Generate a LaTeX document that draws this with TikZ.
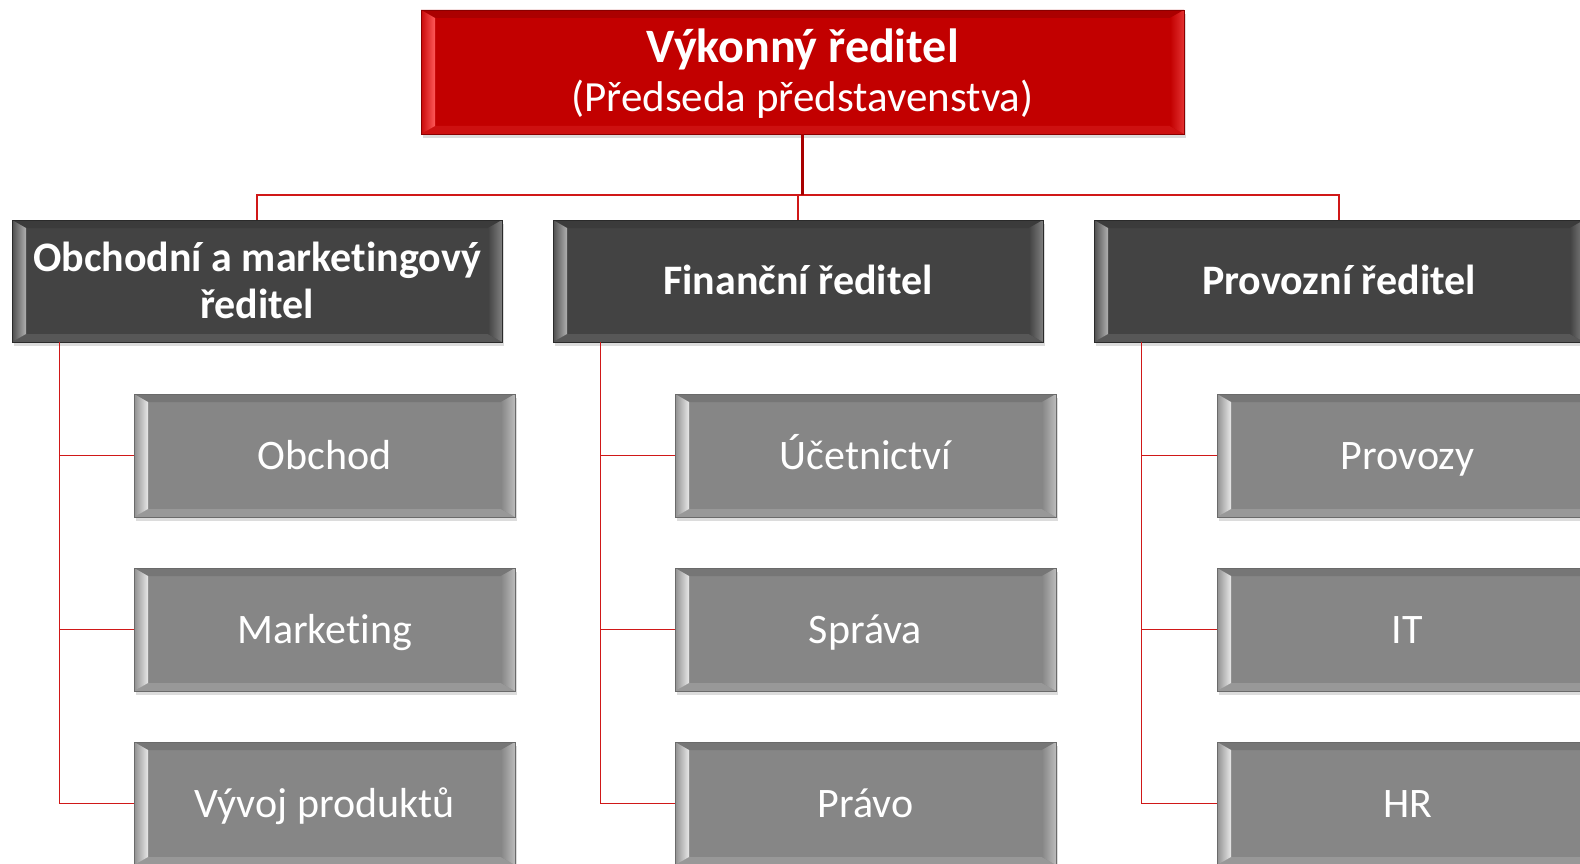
\documentclass[tikz,border=0pt]{standalone}
\usepackage{fontspec}
\setmainfont{Carlito}[Ligatures=NoCommon]
\usetikzlibrary{shadows,calc}
\definecolor{ceored}{HTML}{C20000}
\definecolor{ceolight}{HTML}{FF5A5A}
\definecolor{ceoedge}{HTML}{8A0000}
\definecolor{dkbase}{HTML}{434343}
\definecolor{dklight}{HTML}{B0B0B0}
\definecolor{dkedge}{HTML}{2A2A2A}
\definecolor{gybase}{HTML}{868686}
\definecolor{gylight}{HTML}{E8E8E8}
\definecolor{gyedge}{HTML}{6A6A6A}
\definecolor{linered}{HTML}{D01818}
\definecolor{trunkred}{HTML}{A80000}
\tikzset{
  bevel/.style n args={3}{fill=#1, draw=#3, line width=0.8pt, inner sep=0pt,
    text=white, align=center,
    drop shadow={opacity=0.28, shadow xshift=2pt, shadow yshift=-4pt},
    path picture={
      \coordinate (bSW) at (path picture bounding box.south west);
      \coordinate (bNE) at (path picture bounding box.north east);
      \coordinate (bNW) at (path picture bounding box.north west);
      \coordinate (bSE) at (path picture bounding box.south east);
      \fill[#1!88!black] (bNW) -- (bNE) -- ([xshift=-14pt,yshift=-8pt]bNE) -- ([xshift=14pt,yshift=-8pt]bNW) -- cycle;
      \fill[#1!82!#2] (bSW) -- (bSE) -- ([xshift=-14pt,yshift=8pt]bSE) -- ([xshift=14pt,yshift=8pt]bSW) -- cycle;
      \shade[left color=#1!90!#2, right color=#2] (bSW) -- (bNW) -- ([xshift=14pt,yshift=-8pt]bNW) -- ([xshift=14pt,yshift=8pt]bSW) -- cycle;
      \shade[left color=#1, right color=#1!45!#2] (bSE) -- (bNE) -- ([xshift=-14pt,yshift=-8pt]bNE) -- ([xshift=-14pt,yshift=8pt]bSE) -- cycle;
    }},
  ceobox/.style={bevel={ceored}{ceolight}{ceoedge}, minimum width=763pt, minimum height=124pt,
    font=\fontsize{43}{49}\selectfont, text height=80pt, text depth=0pt},
  dirbox/.style={bevel={dkbase}{dklight}{dkedge}, minimum width=490pt, minimum height=122pt,
    font=\fontsize{42}{47}\selectfont\bfseries, text height=27pt, text depth=0pt},
  twoline/.style={text height=74pt},
  unitbox/.style={bevel={gybase}{gylight}{gyedge}, minimum width=381pt, minimum height=123pt,
    font=\fontsize{42}{46}\selectfont, text height=27.5pt, text depth=0pt},
  conn/.style={draw=linered, line width=1.6pt},
  trunk/.style={draw=trunkred, line width=3pt}
}
\begin{document}
\begin{tikzpicture}[x=1pt,y=-1pt]
\useasboundingbox (0,0) rectangle (1580,864);
% CEO
\node[ceobox] (ceo) at (802.5,72) {{\bfseries\fontsize{48}{49}\selectfont Výkonný ředitel}\\(Předseda představenstva)};
% directors
\node[dirbox, twoline] (d1) at (257,281) {Obchodní a marketingový\\ředitel};
\node[dirbox] (d2) at (798,281) {Finanční ředitel};
\node[dirbox] (d3) at (1339,281) {Provozní ředitel};
% units
\node[unitbox] (u11) at (324.5,455.5) {Obchod};
\node[unitbox] (u12) at (324.5,629.5) {Marketing};
\node[unitbox] (u13) at (324.5,803.5) {Vývoj produktů};
\node[unitbox] (u21) at (865.5,455.5) {Účetnictví};
\node[unitbox] (u22) at (865.5,629.5) {Správa};
\node[unitbox] (u23) at (865.5,803.5) {Právo};
\node[unitbox] (u31) at (1407.5,455.5) {Provozy};
\node[unitbox] (u32) at (1407.5,629.5) {IT};
\node[unitbox] (u33) at (1407.5,803.5) {HR};
% top connectors
\coordinate (bus) at (802.5,195);
\draw[conn] (d1.north) |- (bus) -| (d3.north);
\draw[conn] (d2.north) -- (d2.north |- bus);
\draw[trunk] (ceo.south) -- (bus);
% column trunks
\foreach \c in {1,2,3}{
  \coordinate (v\c) at ([xshift=48pt]d\c.south west);
  \draw[conn] (v\c) |- (u\c3.west);
  \draw[conn] (u\c1.west) -- (u\c1.west -| v\c);
  \draw[conn] (u\c2.west) -- (u\c2.west -| v\c);
}
\end{tikzpicture}
\end{document}
